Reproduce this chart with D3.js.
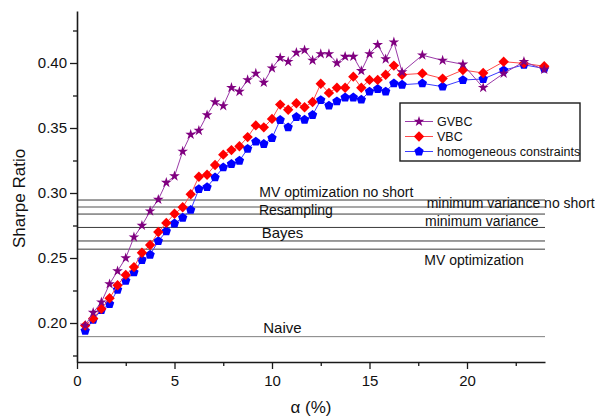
<!DOCTYPE html>
<html>
<head>
<meta charset="utf-8">
<script src="https://cdn.jsdelivr.net/npm/d3@7"></script>
<style>
  html, body { margin: 0; padding: 0; background: #fff; }
  svg { display: block; font-family: "Liberation Sans", Arial, sans-serif; }
</style>
</head>
<body>
<div id="chart"></div>
<script>
// α (%) for every point
const alpha = [0.42, 0.83, 1.25, 1.67, 2.08, 2.50, 2.92, 3.33, 3.75, 4.17,
  4.58, 5.00, 5.42, 5.83, 6.25, 6.67, 7.08, 7.50, 7.92, 8.33,
  8.75, 9.17, 9.58, 10.00, 10.42, 10.83, 11.25, 11.67, 12.08, 12.50,
  12.92, 13.33, 13.75, 14.17, 14.58, 15.00, 15.42, 15.83, 16.25, 16.67,
  17.71, 18.75, 19.79, 20.83, 21.88, 22.92, 23.96];

const gvbc = [0.198, 0.208, 0.216, 0.230, 0.240, 0.250, 0.266, 0.275, 0.286, 0.295,
  0.308, 0.313, 0.332, 0.345, 0.348, 0.360, 0.370, 0.367, 0.381, 0.378,
  0.387, 0.392, 0.385, 0.396, 0.404, 0.401, 0.408, 0.410, 0.402, 0.407,
  0.407, 0.400, 0.405, 0.405, 0.394, 0.407, 0.414, 0.403, 0.416, 0.393,
  0.406, 0.402, 0.399, 0.381, 0.392, 0.401, 0.395];

const vbc = [0.198, 0.2035, 0.211, 0.219, 0.229, 0.237, 0.243, 0.254, 0.260, 0.270,
  0.277, 0.284, 0.289, 0.299, 0.3125, 0.314, 0.3215, 0.3295, 0.333, 0.336,
  0.343, 0.352, 0.3505, 0.357, 0.368, 0.364, 0.369, 0.366, 0.370, 0.384,
  0.377, 0.381, 0.381, 0.3895, 0.381, 0.387, 0.387, 0.391, 0.398, 0.391,
  0.392, 0.388, 0.3946, 0.3923, 0.401, 0.3997, 0.3975];

const homog = [0.194, 0.2025, 0.210, 0.2146, 0.2256, 0.2325, 0.239, 0.2485, 0.2525, 0.263,
  0.2705, 0.2766, 0.281, 0.287, 0.303, 0.3045, 0.312, 0.3197, 0.3223, 0.3248,
  0.334, 0.3395, 0.3377, 0.3423, 0.3562, 0.3505, 0.3585, 0.3564, 0.360, 0.3715,
  0.3672, 0.3705, 0.3735, 0.3735, 0.3718, 0.378, 0.380, 0.378, 0.3843, 0.3833,
  0.3843, 0.3818, 0.3869, 0.3877, 0.3944, 0.3986, 0.3958];

const seriesNames = ["GVBC", "VBC", "homogeneous constraints"];

// benchmark strategies (horizontal lines)
const refNames = ["MV optimization no short", "minimum variance no short", "Resampling",
  "minimum variance", "Bayes", "MV optimization", "Naive"];
const refValues = [0.2946, 0.2893, 0.2838, 0.2735, 0.2631, 0.2568, 0.1895];

const xTicks = [0, 5, 10, 15, 20];
const xMinor = [2.5, 7.5, 12.5, 17.5, 22.5];
const yTicks = [0.20, 0.25, 0.30, 0.35, 0.40];
const yMinor = [0.175, 0.225, 0.275, 0.325, 0.375, 0.425];

const W = 595, H = 416;
const margin = { left: 77, right: 50, top: 11, bottom: 54 };

const svg = d3.select("#chart").append("svg")
  .attr("width", W).attr("height", H);
svg.append("rect").attr("width", W).attr("height", H).attr("fill", "#fff");

const x = d3.scaleLinear().domain([0, 24]).range([margin.left, W - margin.right]);
const y = d3.scaleLinear().domain([0.17, 0.44]).range([H - margin.bottom, margin.top]);

// 水平参考线
const refStyle = [
  { color: "#3a3a3a", w: 1 },
  { color: "#a8a8a8", w: 2 },
  { color: "#3a3a3a", w: 1 },
  { color: "#3a3a3a", w: 1 },
  { color: "#3a3a3a", w: 1 },
  { color: "#3a3a3a", w: 1 },
  { color: "#808080", w: 1 }
];
// label placement: start (in α units), offset from line, font size
const refLabelPos = [
  { at: 9.35, dy: -3.5, fs: 14 },
  { at: 17.93, dy: 1.2, fs: 14 },
  { at: 9.33, dy: 1, fs: 14 },
  { at: 17.85, dy: -1, fs: 14 },
  { at: 9.47, dy: -3, fs: 15 },
  { at: 17.81, dy: 15.5, fs: 14 },
  { at: 9.55, dy: -3.3, fs: 15 }
];

const refG = svg.append("g");
refValues.forEach((v, i) => {
  refG.append("line")
    .attr("x1", x(0)).attr("x2", x(24))
    .attr("y1", y(v)).attr("y2", y(v))
    .attr("stroke", refStyle[i].color)
    .attr("stroke-width", refStyle[i].w);
});
refValues.forEach((v, i) => {
  const p = refLabelPos[i];
  refG.append("text")
    .attr("x", x(p.at)).attr("y", y(v) + p.dy)
    .attr("font-size", p.fs).attr("fill", "#111")
    .text(refNames[i]);
});

// 五边形符号
const symbolPentagon = {
  draw(ctx, size) {
    const r = Math.sqrt(size / 2.3776);
    for (let i = 0; i < 5; i++) {
      const a = -Math.PI / 2 + i * 2 * Math.PI / 5;
      const px = r * Math.cos(a), py = r * Math.sin(a);
      i === 0 ? ctx.moveTo(px, py) : ctx.lineTo(px, py);
    }
    ctx.closePath();
  }
};

const series = [
  { name: seriesNames[2], values: homog, color: "#0000ff", line: "#3b3bff", sym: symbolPentagon, size: 2.3776 * 4.9 * 4.9 },
  { name: seriesNames[1], values: vbc, color: "#ff0000", line: "#ff4a4a", sym: d3.symbolDiamond2, size: Math.pow(5.2 / 0.62625, 2) },
  { name: seriesNames[0], values: gvbc, color: "#800080", line: "#9a3aa8", sym: d3.symbolStar, size: 5.6 * 5.6 / 0.8908 }
];

const line = d3.line().x((d) => x(d[0])).y((d) => y(d[1]));

series.forEach((s) => {
  const pts = alpha.map((a, i) => [a, s.values[i]]);
  const g = svg.append("g");
  g.append("path")
    .attr("d", line(pts))
    .attr("fill", "none")
    .attr("stroke", s.line)
    .attr("stroke-width", 1);
  g.selectAll("path.m").data(pts).join("path")
    .attr("class", "m")
    .attr("transform", (d) => `translate(${x(d[0])},${y(d[1])})`)
    .attr("d", d3.symbol().type(s.sym).size(s.size))
    .attr("fill", s.color);
});

// 坐标轴
const axisColor = "#1a1a1a";
const xAxis = svg.append("g").attr("transform", `translate(0,${y(0.17)})`)
  .call(d3.axisBottom(x).tickValues(xTicks).tickSize(7).tickSizeOuter(0).tickPadding(6));
svg.append("g").attr("transform", `translate(0,${y(0.17)})`)
  .call(d3.axisBottom(x).tickValues(xMinor).tickSize(4).tickFormat(""))
  .call((g) => g.select(".domain").remove());
const yAxis = svg.append("g").attr("transform", `translate(${x(0)},0)`)
  .call(d3.axisLeft(y).tickValues(yTicks).tickSize(7).tickSizeOuter(0).tickPadding(3).tickFormat(d3.format(".2f")));
svg.append("g").attr("transform", `translate(${x(0)},0)`)
  .call(d3.axisLeft(y).tickValues(yMinor).tickSize(4).tickFormat(""))
  .call((g) => g.select(".domain").remove());

svg.selectAll(".domain").attr("stroke", axisColor).attr("stroke-width", 1.6);
svg.selectAll(".tick line").attr("stroke", axisColor).attr("stroke-width", 1.3);
svg.selectAll(".tick text").attr("font-size", 15).attr("fill", "#111")
  .attr("font-family", "'Liberation Sans', Arial, sans-serif");

// 轴标题
svg.append("text")
  .attr("transform", `translate(25,${(y(0.17) + y(0.44)) / 2 + 12}) rotate(-90)`)
  .attr("text-anchor", "middle")
  .attr("font-size", 17).attr("fill", "#111")
  .text("Sharpe Ratio");
svg.append("text")
  .attr("x", 311).attr("y", 413)
  .attr("text-anchor", "middle")
  .attr("font-size", 17).attr("fill", "#111")
  .text("α (%)");

// 图例
const legend = svg.append("g").attr("transform", "translate(400,103)");
legend.append("rect")
  .attr("width", 180).attr("height", 58)
  .attr("fill", "#fff").attr("stroke", axisColor).attr("stroke-width", 1.4);
[series[2], series[1], series[0]].forEach((s, i) => {
  const ly = 18.5 + i * 15;
  legend.append("line")
    .attr("x1", 5).attr("x2", 33).attr("y1", ly).attr("y2", ly)
    .attr("stroke", s.line).attr("stroke-width", 1);
  legend.append("path")
    .attr("transform", `translate(19,${ly})`)
    .attr("d", d3.symbol().type(s.sym).size(s.size))
    .attr("fill", s.color);
  legend.append("text")
    .attr("x", 37).attr("y", ly + 4.5)
    .attr("font-size", 12.5).attr("fill", "#111")
    .text(s.name);
});
</script>
</body>
</html>
